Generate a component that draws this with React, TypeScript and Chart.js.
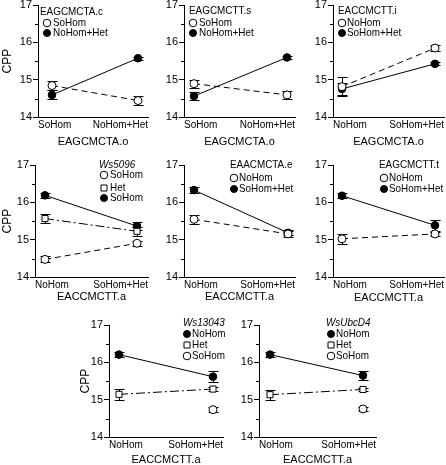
import React, { useEffect, useRef } from 'react';
import { Chart, registerables } from 'chart.js';
Chart.register(...registerables);

const FONT = "'Liberation Sans', Arial, Helvetica, sans-serif";

// ---------- data ----------
const catsSoFirst = ['SoHom', 'NoHom+Het'];
const catsNoFirst = ['NoHom', 'SoHom+Het'];
const yTickValues = [14, 15, 16, 17];
const yMinorTicks = [14.5, 15.5, 16.5];
const yTitle = 'CPP';

// Panel 1
const p1Legend = 'EAGCMCTA.c';
const p1XTitle = 'EAGCMCTA.o';
const p1SoHom = [14.85, 14.45];
const p1SoHomErr = [0.13, 0.12];
const p1NoHomHet = [14.6, 15.58];
const p1NoHomHetErr = [0.12, 0.04];

// Panel 2
const p2Legend = 'EAGCMCTT.s';
const p2XTitle = 'EAGCMCTA.o';
const p2SoHom = [14.9, 14.6];
const p2SoHomErr = [0.11, 0.11];
const p2NoHomHet = [14.57, 15.6];
const p2NoHomHetErr = [0.11, 0.04];

// Panel 3
const p3Legend = 'EACCMCTT.i';
const p3XTitle = 'EAGCMCTA.o';
const p3NoHom = [14.82, 15.85];
const p3NoHomErr = [0.25, 0.08];
const p3SoHomHet = [14.76, 15.43];
const p3SoHomHetErr = [0.15, 0.04];

// Panel 4
const p4Legend = 'Ws5096';
const p4XTitle = 'EACCMCTT.a';
const p4SoHomOpen = [14.48, 14.91];
const p4SoHomOpenErr = [0.08, 0.07];
const p4Het = [15.57, 15.23];
const p4HetErr = [0.13, 0.12];
const p4SoHomFilled = [16.19, 15.37];
const p4SoHomFilledErr = [0.07, 0.1];

// Panel 5
const p5Legend = 'EAACMCTA.e';
const p5XTitle = 'EACCMCTT.a';
const p5NoHom = [15.55, 15.16];
const p5NoHomErr = [0.12, 0.08];
const p5SoHomHet = [16.33, 15.19];
const p5SoHomHetErr = [0.08, 0.07];

// Panel 6
const p6Legend = 'EAGCMCTT.t';
const p6XTitle = 'EACCMCTT.a';
const p6NoHom = [15.03, 15.16];
const p6NoHomErr = [0.14, 0.06];
const p6SoHomHet = [16.18, 15.39];
const p6SoHomHetErr = [0.07, 0.14];

// Panel 7
const p7Legend = 'Ws13043';
const p7XTitle = 'EACCMCTT.a';
const p7NoHom = [16.21, 15.62];
const p7NoHomErr = [0.07, 0.14];
const p7Het = [15.15, 15.29];
const p7HetErr = [0.14, 0.05];
const p7SoHom = [null, 14.74];
const p7SoHomErr = [null, 0.06];

// Panel 8
const p8Legend = 'WsUbcD4';
const p8XTitle = 'EACCMCTT.a';
const p8NoHom = [16.21, 15.65];
const p8NoHomErr = [0.07, 0.12];
const p8Het = [15.14, 15.28];
const p8HetErr = [0.13, 0.05];
const p8SoHom = [null, 14.76];
const p8SoHomErr = [null, 0.05];

// ---------- types / layout ----------
type Marker = 'open' | 'filled' | 'square';
type Dash = 'solid' | 'dash' | 'dashdot' | 'none';
type Series = { label: string; marker: Marker; dash: Dash; values: (number | null)[]; errors: (number | null)[] };
type Geo = {
  axisX: number; right: number; top: number; bottom: number; p0: number; p1: number;
  yW: number; cpp: boolean; titleOff: number;
  lx: number; ly: number; mx: number; tx: number; rows: number[];
};
type PanelSpec = { cats: string[]; xTitle: string; legend: string; italic: boolean; series: Series[]; g: Geo };

const S = (label: string, marker: Marker, dash: Dash, values: (number | null)[], errors: (number | null)[]): Series =>
  ({ label, marker, dash, values, errors });

const panels: PanelSpec[] = [
  {
    cats: catsSoFirst, xTitle: p1XTitle, legend: p1Legend, italic: false,
    series: [S('SoHom', 'open', 'dash', p1SoHom, p1SoHomErr), S('NoHom+Het', 'filled', 'solid', p1NoHomHet, p1NoHomHetErr)],
    g: { axisX: 38, right: 148, top: 5, bottom: 117, p0: 52, p1: 138, yW: 38, cpp: true, titleOff: 25,
      lx: 40, ly: 12, mx: 47, tx: 53, rows: [23, 33] },
  },
  {
    cats: catsSoFirst, xTitle: p2XTitle, legend: p2Legend, italic: false,
    series: [S('SoHom', 'open', 'dash', p2SoHom, p2SoHomErr), S('NoHom+Het', 'filled', 'solid', p2NoHomHet, p2NoHomHetErr)],
    g: { axisX: 184, right: 295, top: 5, bottom: 117, p0: 194, p1: 287, yW: 30, cpp: false, titleOff: 25,
      lx: 189, ly: 11, mx: 193, tx: 199, rows: [23, 33] },
  },
  {
    cats: catsNoFirst, xTitle: p3XTitle, legend: p3Legend, italic: false,
    series: [S('NoHom', 'open', 'dash', p3NoHom, p3NoHomErr), S('SoHom+Het', 'filled', 'solid', p3SoHomHet, p3SoHomHetErr)],
    g: { axisX: 333, right: 444, top: 5, bottom: 117, p0: 342, p1: 435, yW: 30, cpp: false, titleOff: 25,
      lx: 338, ly: 11, mx: 342, tx: 347, rows: [23, 33] },
  },
  {
    cats: catsNoFirst, xTitle: p4XTitle, legend: p4Legend, italic: true,
    series: [
      S('SoHom', 'open', 'dash', p4SoHomOpen, p4SoHomOpenErr),
      S('Het', 'square', 'dashdot', p4Het, p4HetErr),
      S('SoHom', 'filled', 'solid', p4SoHomFilled, p4SoHomFilledErr),
    ],
    g: { axisX: 35, right: 148, top: 165, bottom: 277, p0: 45, p1: 137, yW: 35, cpp: true, titleOff: 20,
      lx: 99, ly: 165, mx: 104, tx: 110, rows: [175, 188, 198] },
  },
  {
    cats: catsNoFirst, xTitle: p5XTitle, legend: p5Legend, italic: false,
    series: [S('NoHom', 'open', 'dash', p5NoHom, p5NoHomErr), S('SoHom+Het', 'filled', 'solid', p5SoHomHet, p5SoHomHetErr)],
    g: { axisX: 184, right: 295, top: 165, bottom: 277, p0: 194, p1: 288, yW: 30, cpp: false, titleOff: 20,
      lx: 230, ly: 165, mx: 234, tx: 239, rows: [178, 189] },
  },
  {
    cats: catsNoFirst, xTitle: p6XTitle, legend: p6Legend, italic: false,
    series: [S('NoHom', 'open', 'dash', p6NoHom, p6NoHomErr), S('SoHom+Het', 'filled', 'solid', p6SoHomHet, p6SoHomHetErr)],
    g: { axisX: 333, right: 444, top: 165, bottom: 277, p0: 342, p1: 435, yW: 30, cpp: false, titleOff: 21,
      lx: 379, ly: 165, mx: 384, tx: 389, rows: [178, 189] },
  },
  {
    cats: catsNoFirst, xTitle: p7XTitle, legend: p7Legend, italic: true,
    series: [
      S('NoHom', 'filled', 'solid', p7NoHom, p7NoHomErr),
      S('Het', 'square', 'dashdot', p7Het, p7HetErr),
      S('SoHom', 'open', 'none', p7SoHom, p7SoHomErr),
    ],
    g: { axisX: 109, right: 223, top: 325, bottom: 437, p0: 119, p1: 213, yW: 31, cpp: true, titleOff: 23,
      lx: 183, ly: 323, mx: 187, tx: 192, rows: [334, 345, 356] },
  },
  {
    cats: catsNoFirst, xTitle: p8XTitle, legend: p8Legend, italic: true,
    series: [
      S('NoHom', 'filled', 'solid', p8NoHom, p8NoHomErr),
      S('Het', 'square', 'dashdot', p8Het, p8HetErr),
      S('SoHom', 'open', 'none', p8SoHom, p8SoHomErr),
    ],
    g: { axisX: 259, right: 376, top: 325, bottom: 437, p0: 270, p1: 363, yW: 30, cpp: false, titleOff: 23,
      lx: 326, ly: 323, mx: 331, tx: 336, rows: [334, 345, 356] },
  },
];

const PAD_T = 10;
const PAD_R = 34;
const TITLE_SIZE = 11;
const LEGEND_SIZE = 11.5;
const LEGEND_SQUEEZE = 0.86;
const XTICK_SIZE = 10;

function drawMarker(ctx: CanvasRenderingContext2D, m: Marker, x: number, y: number) {
  ctx.save();
  ctx.lineWidth = 1;
  ctx.strokeStyle = '#000';
  ctx.beginPath();
  if (m === 'square') {
    ctx.rect(x - 3, y - 3, 6, 6);
    ctx.fillStyle = '#fff';
    ctx.fill();
  } else {
    ctx.arc(x, y, m === 'filled' ? 3.5 : 3.8, 0, Math.PI * 2);
    ctx.fillStyle = m === 'filled' ? '#000' : '#fff';
    ctx.fill();
  }
  ctx.stroke();
  ctx.restore();
}

function squeezedText(ctx: CanvasRenderingContext2D, text: string, x: number, y: number) {
  ctx.save();
  ctx.translate(x, y);
  ctx.scale(LEGEND_SQUEEZE, 1);
  ctx.fillText(text, 0, 0);
  ctx.restore();
}

function Panel({ spec }: { spec: PanelSpec }) {
  const ref = useRef<HTMLCanvasElement | null>(null);
  const g = spec.g;
  const cl = g.axisX - g.yW;
  const ct = g.top - PAD_T;
  const xH = g.titleOff + (TITLE_SIZE * 1.2) / 2;
  const cw = g.yW + (g.right - g.axisX) + PAD_R;
  const ch = PAD_T + (g.bottom - g.top) + xH;

  useEffect(() => {
    if (!ref.current) return;
    const unit = g.p1 - g.p0;
    const xmin = -(g.p0 - g.axisX) / unit;
    const xmax = 1 + (g.right - g.p1) / unit;

    const datasets = spec.series.map((s) => {
      const pts: { x: number; y: number; e: number }[] = [];
      s.values.forEach((v, i) => {
        if (v != null) pts.push({ x: i, y: v, e: (s.errors[i] as number) || 0 });
      });
      return {
        label: s.label,
        data: pts.map((p) => ({ x: p.x, y: p.y })),
        errors: pts.map((p) => p.e),
        showLine: s.dash !== 'none',
        borderColor: '#000',
        borderWidth: 1,
        borderDash: s.dash === 'dash' ? [6, 4] : s.dash === 'dashdot' ? [9, 3, 2, 3] : [],
        pointStyle: s.marker === 'square' ? 'rect' : 'circle',
        pointRadius: s.marker === 'square' ? 4.3 : s.marker === 'filled' ? 3.8 : 4,
        pointHoverRadius: s.marker === 'square' ? 4.3 : 4,
        pointBackgroundColor: s.marker === 'filled' ? '#000' : '#fff',
        pointBorderColor: '#000',
        pointBorderWidth: 1,
        fill: false,
        tension: 0,
      };
    });

    const errPlugin = {
      id: 'errBars',
      beforeDatasetsDraw(chart: any) {
        const ctx = chart.ctx;
        const xs = chart.scales.x;
        const ys = chart.scales.y;
        ctx.save();
        ctx.strokeStyle = '#000';
        ctx.lineWidth = 1;
        chart.data.datasets.forEach((ds: any) => {
          ds.data.forEach((p: any, j: number) => {
            const e = ds.errors[j];
            const x = Math.round(xs.getPixelForValue(p.x)) + 0.5;
            const y1 = Math.round(ys.getPixelForValue(p.y + e)) + 0.5;
            const y2 = Math.round(ys.getPixelForValue(p.y - e)) + 0.5;
            ctx.beginPath();
            ctx.moveTo(x, y1); ctx.lineTo(x, y2);
            ctx.moveTo(x - 5, y1); ctx.lineTo(x + 5, y1);
            ctx.moveTo(x - 5, y2); ctx.lineTo(x + 5, y2);
            ctx.stroke();
          });
        });
        ctx.restore();
      },
    };

    const decoPlugin = {
      id: 'deco',
      afterDraw(chart: any) {
        const ctx = chart.ctx;
        const ys = chart.scales.y;
        const left = chart.chartArea.left;
        ctx.save();
        ctx.strokeStyle = '#000';
        ctx.lineWidth = 1;
        yMinorTicks.forEach((v) => {
          const y = Math.round(ys.getPixelForValue(v)) + 0.5;
          ctx.beginPath();
          ctx.moveTo(left - 3, y);
          ctx.lineTo(left, y);
          ctx.stroke();
        });
        // legend
        ctx.fillStyle = '#000';
        ctx.textBaseline = 'middle';
        ctx.textAlign = 'left';
        ctx.font = `${spec.italic ? 'italic ' : ''}${LEGEND_SIZE}px ${FONT}`;
        squeezedText(ctx, spec.legend, g.lx - cl, g.ly - ct);
        ctx.font = `${LEGEND_SIZE}px ${FONT}`;
        spec.series.forEach((s, i) => {
          const ry = g.rows[i] - ct;
          drawMarker(ctx, s.marker, g.mx - cl, ry);
          ctx.fillStyle = '#000';
          squeezedText(ctx, s.label, g.tx - cl, ry);
        });
        ctx.restore();
      },
    };

    const chart = new Chart(ref.current, {
      type: 'line',
      data: { datasets: datasets as any },
      options: {
        animation: false,
        responsive: false,
        devicePixelRatio: 1,
        events: [],
        layout: { padding: { top: PAD_T, right: PAD_R, left: 0, bottom: 0 } },
        plugins: { legend: { display: false }, tooltip: { enabled: false }, title: { display: false } },
        scales: {
          x: {
            type: 'linear',
            min: xmin,
            max: xmax,
            afterBuildTicks: (s: any) => { s.ticks = [{ value: xmin }, { value: xmax }]; },
            afterFit: (s: any) => { s.height = xH; },
            ticks: {
              autoSkip: false, maxRotation: 0, minRotation: 0, padding: 2, color: '#000', align: 'inner',
              font: { family: FONT, size: XTICK_SIZE },
              callback: (_v: any, i: number) => spec.cats[i] ?? '',
            },
            grid: { display: false, drawTicks: false },
            border: { display: true, color: '#000', width: 1 },
            title: { display: true, text: spec.xTitle, color: '#000', font: { family: FONT, size: TITLE_SIZE }, padding: 0 },
          },
          y: {
            type: 'linear',
            min: 14,
            max: 17,
            afterBuildTicks: (s: any) => { s.ticks = yTickValues.map((v) => ({ value: v })); },
            afterFit: (s: any) => { s.width = g.yW; },
            ticks: {
              autoSkip: false, padding: 1, color: '#000',
              font: { family: FONT, size: 11 },
              callback: (v: any) => String(v),
            },
            grid: { display: true, drawOnChartArea: false, drawTicks: true, tickLength: 5, color: '#000', lineWidth: 1 },
            border: { display: true, color: '#000', width: 1 },
            title: { display: g.cpp, text: yTitle, color: '#000', font: { family: FONT, size: 12 }, padding: 0 },
          },
        },
      } as any,
      plugins: [errPlugin, decoPlugin],
    });
    return () => chart.destroy();
  }, []);

  return (
    <canvas
      ref={ref}
      width={Math.round(cw)}
      height={Math.round(ch)}
      style={{ position: 'absolute', left: cl, top: ct, width: Math.round(cw), height: Math.round(ch) }}
    />
  );
}

export default function App() {
  return (
    <div style={{ position: 'fixed', left: 0, top: 0, width: 446, height: 465, background: '#fff', overflow: 'hidden' }}>
      {panels.map((p, i) => (
        <Panel key={i} spec={p} />
      ))}
    </div>
  );
}
